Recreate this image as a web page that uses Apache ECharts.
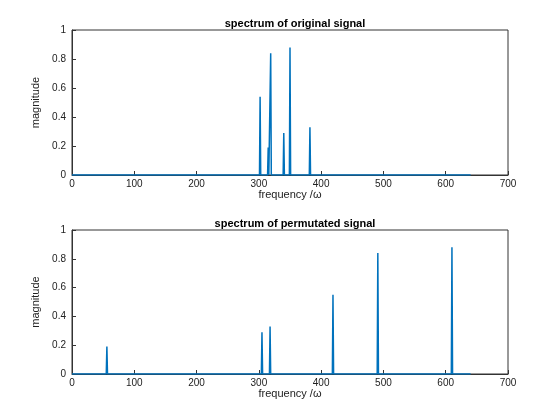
<!DOCTYPE html>
<html><head><meta charset="utf-8">
<script src="https://cdn.jsdelivr.net/npm/echarts@6/dist/echarts.min.js"></script>
<style>html,body{margin:0;background:#fff}#c{width:560px;height:420px}</style></head>
<body><div id="c"></div>
<script>
const signalLength = 640;
const peakFreqOrig = [302, 315, 319, 340, 350, 382];
const peakMagOrig = [0.54, 0.19, 0.84, 0.29, 0.88, 0.33];
const peakFreqPerm = [56, 305, 318, 419, 491, 610];
const peakMagPerm = [0.19, 0.29, 0.33, 0.55, 0.84, 0.88];
const titles = ['spectrum of original signal', 'spectrum of permutated signal'];
const xTicks = [0,100,200,300,400,500,600,700];
const yTicks = [0,0.2,0.4,0.6,0.8,1];

function build(freqs, mags){
  const pts = [[0,0]];
  const order = freqs.map((f,i)=>i).sort((a,b)=>freqs[a]-freqs[b]);
  order.forEach(i=>{pts.push([freqs[i]-1,0],[freqs[i],mags[i]],[freqs[i]+1,0]);});
  pts.push([signalLength,0]);
  return pts;
}
const grids=[{left:72,right:52,top:30,height:145,show:true,borderColor:'#333',borderWidth:1},
             {left:72,right:52,top:230,height:144,show:true,borderColor:'#333',borderWidth:1}];
const tx={fontSize:10,color:'#222',fontFamily:'Liberation Sans'};
const xAxis=[0,1].map(i=>({type:'value',gridIndex:i,min:0,max:700,interval:100,
  name:'frequency /ω',nameLocation:'middle',nameGap:14,nameTextStyle:{fontSize:11,color:'#222'},
  axisLine:{lineStyle:{color:'#333'}},axisTick:{inside:true,length:4,lineStyle:{color:'#333'}},
  axisLabel:Object.assign({margin:4},tx),splitLine:{show:false}}));
const yAxis=[0,1].map(i=>({type:'value',gridIndex:i,min:0,max:1,interval:0.2,
  name:'magnitude',nameLocation:'middle',nameGap:16,nameTextStyle:{fontSize:11,color:'#222'},
  axisLine:{show:true,lineStyle:{color:'#333'}},axisTick:{show:true,inside:true,length:4,lineStyle:{color:'#333'}},
  axisLabel:Object.assign({margin:6,formatter:v=>String(+v.toFixed(1))},tx),splitLine:{show:false}}));
const chart=echarts.init(document.getElementById('c'));
chart.setOption({
  animation:false,
  title:titles.map((t,i)=>({text:t,left:290,top:i?213:13,textAlign:'center',
    textStyle:{fontSize:11,fontWeight:'bold',color:'#000',fontFamily:'Liberation Sans'}})),
  grid:grids,xAxis,yAxis,
  series:[
    {type:'line',xAxisIndex:0,yAxisIndex:0,showSymbol:false,data:build(peakFreqOrig,peakMagOrig),lineStyle:{color:'#0072BD',width:1.5}},
    {type:'line',xAxisIndex:1,yAxisIndex:1,showSymbol:false,data:build(peakFreqPerm,peakMagPerm),lineStyle:{color:'#0072BD',width:1.5}}
  ]
});
</script></body></html>
